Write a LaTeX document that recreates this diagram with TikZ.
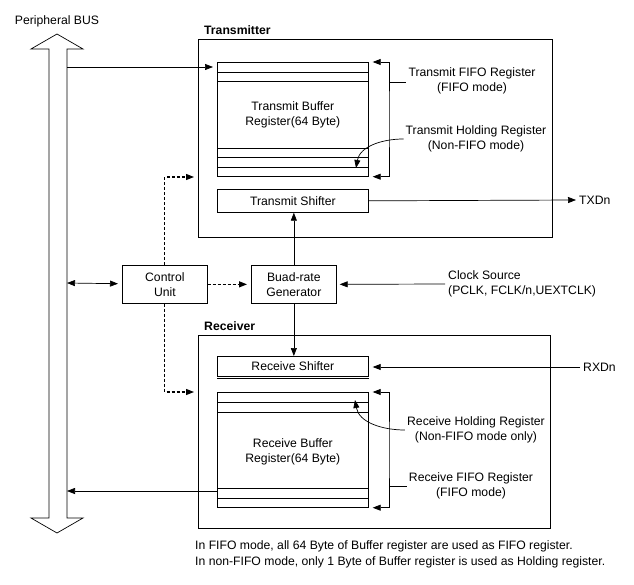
\documentclass[tikz,border=0pt]{standalone}
\usepackage{fontspec}
\setmainfont{Liberation Sans}
\usetikzlibrary{arrows.meta,positioning}

\tikzset{
  blk/.style={draw, line width=0.7pt, inner sep=0pt, align=center},
  txt/.style={align=center, inner sep=2pt},
  arr/.style={-{Triangle[length=8pt,width=6pt]}, line width=0.7pt},
  arrb/.style={{Triangle[length=8pt,width=6pt]}-{Triangle[length=8pt,width=6pt]}, line width=0.7pt},
  darr/.style={arr, line width=1.1pt, dash pattern=on 3pt off 2pt},
  gap/.style={shorten >=4pt},
}

\begin{document}
\begin{tikzpicture}[x=1pt,y=-1pt,font=\fontsize{12.2}{15}\selectfont]

\useasboundingbox (0,0) rectangle (634,585);

% peripheral bus
\draw[line width=0.7pt] (49,49) -- (31,49) -- (57,34) -- (83,49) -- (67,49) -- (67,518)
  -- (83,518) -- (57,533) -- (31,518) -- (49,518) -- cycle;
\node[txt] (bus) at (57,21) {Peripheral BUS};
\coordinate (bus-tx) at (67,67);
\coordinate (bus-ctl) at (67,283);
\coordinate (bus-rx) at (67,491);

% transmitter
\node[blk, minimum width=354, minimum height=198, anchor=north west] (tx) at (198,39) {};
\node[anchor=south west, inner sep=0pt, font=\fontsize{12.2}{15}\selectfont\bfseries]
  (txlbl) at ([xshift=6pt,yshift=4pt]tx.north west) {Transmitter};

\node[blk, minimum width=151, minimum height=114, anchor=north west] (txbuf) at (217,62) {};
\node[txt] (txbuftxt) at ([yshift=5pt]txbuf.center) {Transmit Buffer\\Register(64 Byte)};
\foreach \d in {10,19}
  \draw[line width=0.7pt] ([yshift=-\d pt]txbuf.north west) -- ([yshift=-\d pt]txbuf.north east);
\foreach \d in {9,19,28}
  \draw[line width=0.7pt] ([yshift=\d pt]txbuf.south west) -- ([yshift=\d pt]txbuf.south east);

\node[blk, minimum width=151, minimum height=23, anchor=north west] (txsh) at (217,189) {Transmit Shifter};

\node[txt] (txfifo) at (472,81) {Transmit FIFO Register\\(FIFO mode)};
\node[txt] (txhold) at (476,139) {Transmit Holding Register\\(Non-FIFO mode)};

\draw[arrb] ([xshift=4pt]txbuf.north east) -| (389,119) |- ([xshift=4pt]txbuf.south east);
\draw[line width=0.7pt] (389,82) -- (txfifo.west |- 0,82);
\draw[arr] (txhold.west) to[out=180, in=80] (356,168);

\node[anchor=west, inner sep=3pt] (txd) at (576,200) {TXDn};
\draw[arr] (txsh.east) -- (txd.west);

% control unit and baud-rate generator
\node[blk, minimum width=85, minimum height=38, anchor=north west] (ctl) at (122,265) {Control\\Unit};
\node[blk, minimum width=85, minimum height=38, anchor=north west] (baud) at (251,265) {Buad-rate\\Generator};
\node[anchor=west, align=left, inner sep=3pt] (clk) at (445,284) {Clock Source\\(PCLK, FCLK/n,UEXTCLK)};

\draw[arrb, gap] (bus-ctl) -- (ctl);
\draw[darr, gap] (ctl) -- (baud);
\draw[arr, shorten >=3pt] (clk.west) -- (baud.east);
\draw[arr] (baud.north) -- (baud.north |- txsh.south);
\draw[arr, gap] (bus-tx) -- (txbuf.west |- bus-tx);

% receiver
\node[blk, minimum width=352, minimum height=193, anchor=north west] (rx) at (198,335) {};
\node[anchor=south west, inner sep=0pt, font=\fontsize{12.2}{15}\selectfont\bfseries]
  (rxlbl) at ([xshift=6pt,yshift=4pt]rx.north west) {Receiver};

\node[blk, minimum width=151, minimum height=20, anchor=north west] (rxsh) at (217,356) {Receive Shifter};
\draw[line width=0.7pt] ([yshift=-2pt]rxsh.south west) -- ([yshift=-2pt]rxsh.south east);

\node[blk, minimum width=151, minimum height=115, anchor=north west] (rxbuf) at (217,392) {};
\node[txt] (rxbuftxt) at ([yshift=-1.5pt]rxbuf.center) {Receive Buffer\\Register(64 Byte)};
\foreach \d in {10,20}
  \draw[line width=0.7pt] ([yshift=-\d pt]rxbuf.north west) -- ([yshift=-\d pt]rxbuf.north east);
\foreach \d in {9,19}
  \draw[line width=0.7pt] ([yshift=\d pt]rxbuf.south west) -- ([yshift=\d pt]rxbuf.south east);

\node[txt] (rxhold) at (476,430) {Receive Holding Register\\(Non-FIFO mode only)};
\node[txt] (rxfifo) at (471,486) {Receive FIFO Register\\(FIFO mode)};

\draw[arrb] ([xshift=4pt]rxbuf.north east) -| (389,450) |- ([xshift=4pt]rxbuf.south east);
\draw[line width=0.7pt] (389,486) -- (rxfifo.west);
\draw[arr] (rxhold.west) to[out=180, in=-80] (355,400);

\node[anchor=west, inner sep=3pt] (rxd) at (580,367) {RXDn};
\draw[arr, gap] (rxd.west) -- (rxsh.east |- rxd.west);

\draw[arr] (baud.south) -- (baud.south |- rxsh.north);
\draw[arr] (rxbuf.west |- bus-rx) -- (bus-rx);

% dashed control lines
\draw[darr] (ctl.north) |- ([xshift=-4pt,yshift=-138pt]tx.north west);
\draw[darr] (ctl.south) |- ([xshift=-4pt,yshift=-57pt]rx.north west);

% notes
\node[anchor=north west, align=left, inner sep=0pt, font=\fontsize{12.2}{16}\selectfont] (note) at (195,540)
  {In FIFO mode, all 64 Byte of Buffer register are used as FIFO register.\\
   In non-FIFO mode, only 1 Byte of Buffer register is used as Holding register.};

\end{tikzpicture}
\end{document}
